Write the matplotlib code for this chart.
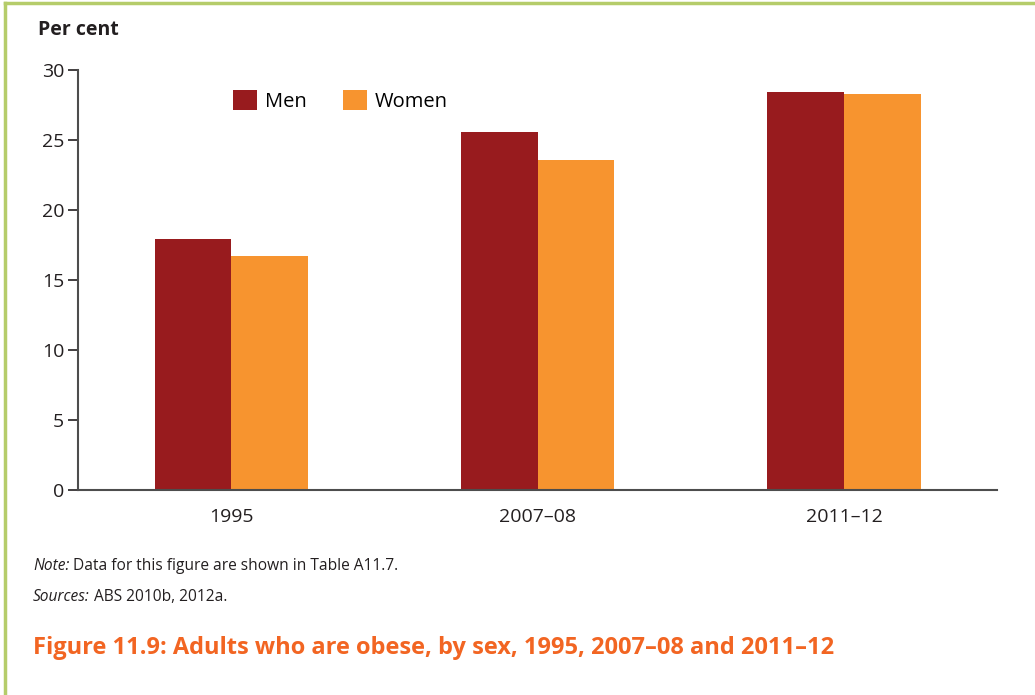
import matplotlib.pyplot as plt
import numpy as np

plt.rcParams['font.family'] = ['Open Sans', 'DejaVu Sans']

years = ['1995', '2007–08', '2011–12']
men = [17.9, 25.6, 28.4]
women = [16.7, 23.6, 28.3]

men_color = '#981B1E'
women_color = '#F7942F'
text_color = '#231F20'

fig = plt.figure(figsize=(10.35, 6.95), dpi=100)
ax = fig.add_axes([0.0754, 0.295, 0.888, 0.6044])

x = np.arange(len(years))
w = 0.25
ax.bar(x - w / 2, men, w, color=men_color, label='Men')
ax.bar(x + w / 2, women, w, color=women_color, label='Women')

ax.set_xlim(-0.5, 2.5)
ax.set_ylim(0, 30)
ax.set_yticks(range(0, 31, 5))
ax.set_xticks(x)
ax.set_xticklabels(years)
ax.tick_params(axis='x', length=0, labelsize=14, pad=13, colors=text_color)
ax.tick_params(axis='y', length=7, width=1.2, labelsize=14, pad=3, colors=text_color)
for s in ['top', 'right']:
    ax.spines[s].set_visible(False)
for s in ['left', 'bottom']:
    ax.spines[s].set_color('#4D4D4D')
    ax.spines[s].set_linewidth(1.5)

ax.legend(loc='upper left', bbox_to_anchor=(0.153, 0.985), ncol=2, frameon=False,
          fontsize=14.5, handlelength=1.2, handleheight=1.1, columnspacing=1.8,
          handletextpad=0.4, borderaxespad=0.3)

fig.text(38 / 1035, 1 - 30 / 695, 'Per cent', fontsize=14, fontweight='bold',
         va='center', ha='left', color=text_color)

# note and sources lines: italic lead word followed by plain text
fig.canvas.draw()
renderer = fig.canvas.get_renderer()
for y, lead, rest in [(566, 'Note:', ' Data for this figure are shown in Table A11.7.'),
                      (597, 'Sources:', ' ABS 2010b, 2012a.')]:
    t = fig.text(33 / 1035, 1 - y / 695, lead, fontsize=11.2, style='italic',
                 va='center', ha='left', color=text_color)
    bb = t.get_window_extent(renderer)
    fig.text(bb.x1 / 1035, 1 - y / 695, rest, fontsize=11.2,
             va='center', ha='left', color=text_color)

fig.text(33 / 1035, 1 - 648 / 695,
         'Figure 11.9: Adults who are obese, by sex, 1995, 2007–08 and 2011–12',
         fontsize=17, fontweight='bold', va='center', ha='left', color='#F26522')

# green frame top and left
fig.add_artist(plt.Line2D([5 / 1035, 1], [1 - 3 / 695, 1 - 3 / 695],
                          transform=fig.transFigure, color='#B5CC6A', lw=2.5))
fig.add_artist(plt.Line2D([5 / 1035, 5 / 1035], [0, 1 - 3 / 695],
                          transform=fig.transFigure, color='#B5CC6A', lw=2.5))

fig.savefig('out.png', dpi=100)
